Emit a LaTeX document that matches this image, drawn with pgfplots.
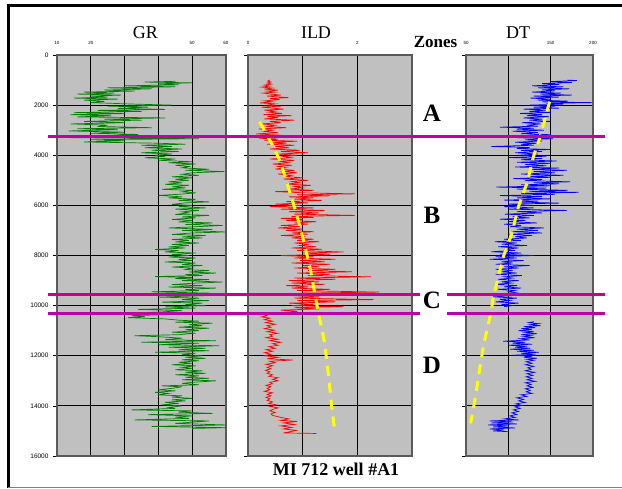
\documentclass[border=0pt]{standalone}
\usepackage{pgfplots}
\pgfplotsset{compat=1.18}
\usepackage{fontspec}
\setmainfont{Liberation Serif}
\newfontfamily\tickfont{Liberation Sans}
\definecolor{panelgray}{RGB}{192,192,192}
\definecolor{borderg}{RGB}{90,90,90}
\definecolor{magz}{RGB}{192,0,160}
\definecolor{grc}{RGB}{0,128,0}
\definecolor{yel}{RGB}{255,255,0}
\pgfplotsset{panel/.style={scale only axis, height=401pt, anchor=south west,
  ymin=0, ymax=16000, y dir=reverse,
  scaled x ticks=false, scaled y ticks=false,
  axis background/.style={fill=panelgray},
  grid=major, major grid style={black, line width=0.8pt},
  axis line style={draw=borderg, line width=1.3pt},
  ytick={0,2000,4000,6000,8000,10000,12000,14000,16000},
  yticklabels={},
  ytick pos=left, tick align=outside, major tick length=4pt,
  ytick style={black, line width=0.6pt},
  xtick pos=right, xticklabel pos=right,
  xtick style={draw=none},
  xticklabel style={font=\tickfont\fontsize{4.5}{5}\selectfont, yshift=3pt},
  yticklabel style={font=\tickfont\fontsize{6.5}{7}\selectfont, xshift=-1pt}}}
\begin{document}
\begin{tikzpicture}
\path[use as bounding box] (0,0) rectangle (622pt,488pt);
% frame
\draw[line width=3pt] (8.5pt,0) -- (8.5pt,482.5pt) -- (622pt,482.5pt);
\draw[gray, line width=0.8pt] (8pt,1pt) -- (622pt,1pt);

% GR
\begin{axis}[panel, at={(57pt,32pt)}, width=169pt, xmin=10, xmax=60,
  xtick={10,20,30,40,50,60}, xticklabels={10,20,,,50,60},
  yticklabels={0,2000,4000,6000,8000,10000,12000,14000,16000}]
\addplot[grc, line width=0.7pt] coordinates {
(45,1050)(36,1080)(50,1110)(40,1150)(46,1190)(30,1230)(45,1270)(25,1310)(38,1350)(24,1400)(33,1440)(18,1480)(27,1520)(16,1560)(29,1600)(20,1640)(25,1680)(15,1720)(28,1760)(18,1800)(24,1850)(20,1900)(33,1960)(44,2000)(25,2040)(37,2080)(28,2130)(42,2170)(22,2210)(35,2250)(15,2300)(30,2340)(14,2380)(26,2420)(16,2470)(42,2510)(24,2560)(35,2600)(18,2650)(30,2700)(14,2750)(25,2800)(22,2850)(38,2900)(16,2940)(28,2980)(13.5,3030)(30,3080)(20,3120)(34,3170)(24,3220)(44,3260)(14,3300)(52,3340)(20,3380)(30,3420)(18,3470)(40,3520)(48,3560)(35,3600)(44,3650)(36,3700)(47,3750)(38,3800)(46,3850)(35,3900)(44,3950)(39,4000)(42,4050)(36,4100)(45,4150)(40,4200)(50,4260)(43,4300)(51,4350)(45,4400)(49,4450)(47,4500)(55,4560)(48,4600)(59.5,4650)(50,4700)(47,4760)(52,4800)(44,4860)(50,4900)(45,4960)(49,5000)(43,5060)(47,5100)(42,5160)(49,5200)(44,5260)(48,5300)(41,5360)(50,5400)(47,5460)(51,5500)(46,5560)(40,5600)(47,5660)(43,5700)(51,5760)(46,5800)(55,5860)(48,5900)(44,5960)(50,6000)(46,6050)(54,6100)(45,6150)(52,6200)(47,6260)(49,6300)(45,6360)(55,6400)(47,6460)(51,6500)(44,6560)(50,6600)(46,6660)(56,6700)(48,6760)(59,6800)(50,6860)(43,6900)(56,6960)(47,7000)(60,7060)(50,7100)(44,7160)(54,7200)(47,7260)(53,7300)(44,7360)(49,7400)(45,7460)(52,7500)(44,7560)(49,7600)(43,7660)(48,7700)(39,7760)(46,7800)(42,7860)(51,7900)(44,7960)(49,8000)(43,8060)(51,8100)(46,8160)(50,8200)(42,8260)(51,8300)(47,8360)(53,8400)(44,8460)(50,8500)(48,8560)(55,8600)(49,8660)(57,8700)(48,8760)(53,8800)(39,8840)(50,8880)(45,8920)(55,8960)(47,9000)(59,9060)(51,9100)(44,9160)(53,9200)(43,9260)(57,9300)(48,9360)(52,9400)(38,9450)(55,9500)(46,9560)(54,9600)(40,9660)(52,9700)(47,9760)(55,9800)(41,9860)(53,9900)(48,9960)(54,10000)(42,10050)(51,10100)(34,10150)(47,10200)(40,10260)(23.5,10330)(45,10350)(32,10400)(36,10440)(31,10480)(42,10530)(46,10580)(52,10620)(45,10660)(56,10700)(49,10760)(53,10800)(46,10860)(55,10900)(48,10960)(52,11000)(44,11060)(51,11100)(46,11160)(33,11200)(40,11240)(47,11300)(42,11360)(57,11400)(35,11460)(52,11500)(40,11560)(58,11600)(43,11660)(54,11700)(46,11760)(55,11800)(39,11860)(51,11900)(47,11960)(53,12000)(48,12060)(54,12100)(47,12160)(52,12200)(46,12260)(50,12300)(44,12360)(51,12400)(47,12460)(50,12500)(45,12560)(53,12600)(48,12660)(54,12700)(45,12760)(52,12800)(48,12860)(55,12900)(47,12960)(57,13000)(50,13060)(47,13100)(52,13160)(41,13200)(47,13240)(44,13300)(40,13360)(45,13400)(39,13460)(43,13500)(40,13560)(47,13600)(44,13650)(50,13700)(44,13760)(48,13800)(42,13860)(46,13900)(41,13960)(47,14000)(43,14060)(45,14100)(32,14160)(50,14200)(46,14250)(56,14300)(37,14350)(50,14400)(45,14450)(49,14500)(33,14560)(55,14600)(45,14700)(60,14760)(38,14820)(60,14870)(50,14900)
};
\end{axis}

% ILD
\begin{axis}[panel, at={(248pt,32pt)}, width=164pt, xmin=0, xmax=3,
  xtick={0,1,2,3}, xticklabels={0,,2,}]
\addplot[red, line width=0.7pt] coordinates {
(0.40,1000)(0.36,1040)(0.42,1080)(0.35,1120)(0.43,1160)(0.3,1200)(0.4,1240)(0.25,1280)(0.45,1320)(0.3,1360)(0.55,1400)(0.35,1440)(0.5,1480)(0.28,1520)(0.42,1560)(0.6,1600)(0.35,1640)(0.74,1700)(0.4,1740)(0.58,1780)(0.3,1830)(0.45,1870)(0.22,1910)(0.5,1950)(0.35,2000)(0.6,2040)(0.25,2080)(0.45,2120)(0.65,2160)(0.3,2200)(0.5,2240)(0.38,2280)(0.62,2330)(0.28,2380)(0.8,2420)(0.35,2460)(0.55,2500)(0.3,2550)(0.85,2600)(0.4,2650)(0.6,2700)(0.25,2750)(0.5,2800)(0.35,2850)(0.7,2900)(0.2,2950)(0.45,3000)(0.3,3050)(0.55,3100)(0.15,3150)(0.6,3200)(0.1,3250)(0.75,3280)(0.2,3320)(0.55,3360)(0.3,3400)(0.9,3440)(0.45,3480)(0.7,3520)(0.35,3560)(0.85,3600)(0.5,3650)(0.75,3700)(0.4,3750)(0.95,3800)(0.6,3850)(1.1,3900)(0.55,3950)(0.9,4000)(0.65,4050)(0.8,4100)(0.4,4150)(0.85,4200)(0.6,4250)(0.75,4300)(0.45,4350)(0.8,4400)(0.55,4450)(0.7,4500)(0.5,4550)(0.85,4600)(0.65,4650)(0.9,4700)(0.55,4750)(0.8,4800)(0.7,4850)(1.0,4900)(0.65,4950)(1.1,5000)(0.8,5050)(0.95,5100)(0.7,5150)(1.15,5200)(0.85,5250)(1.0,5300)(0.75,5350)(1.2,5400)(0.5,5450)(1.05,5500)(1.95,5540)(0.9,5580)(1.5,5620)(0.75,5660)(1.2,5700)(0.85,5750)(1.35,5800)(0.7,5850)(1.1,5900)(0.5,5950)(0.95,6000)(0.4,6050)(1.2,6100)(0.6,6150)(1.4,6200)(0.75,6250)(1.3,6300)(0.85,6350)(1.95,6400)(0.8,6440)(1.2,6480)(0.6,6520)(1.0,6560)(0.7,6600)(1.25,6650)(0.85,6700)(1.1,6750)(0.6,6800)(0.95,6850)(0.55,6900)(1.0,6950)(0.7,7000)(1.2,7050)(0.8,7100)(1.1,7150)(0.6,7200)(1.05,7250)(0.8,7300)(1.2,7350)(0.9,7400)(1.3,7450)(0.85,7500)(1.1,7550)(0.95,7600)(1.25,7650)(0.8,7700)(1.35,7750)(0.9,7800)(1.75,7860)(1.0,7900)(1.5,7950)(0.6,8000)(1.2,8050)(0.85,8100)(1.6,8150)(0.95,8200)(1.4,8250)(0.8,8300)(1.5,8350)(1.0,8400)(1.3,8450)(0.85,8500)(1.6,8550)(1.1,8600)(1.9,8650)(0.9,8700)(1.5,8750)(1.1,8800)(2.25,8850)(0.85,8900)(1.6,8950)(0.75,9000)(1.3,9050)(0.8,9100)(1.4,9150)(0.7,9200)(1.1,9250)(0.8,9300)(1.5,9350)(0.9,9400)(2.4,9460)(1.0,9500)(1.7,9550)(0.8,9600)(1.3,9650)(0.85,9700)(2.3,9760)(0.9,9800)(1.6,9850)(0.75,9900)(1.2,9950)(0.8,10000)(1.75,10040)(0.85,10080)(1.3,10130)(0.6,10180)(0.9,10230)(0.7,10280)(0.3,10310)(0.28,10350)(0.35,10400)(0.25,10450)(0.4,10500)(0.3,10560)(0.45,10620)(0.32,10680)(0.5,10740)(0.35,10800)(0.42,10860)(0.3,10920)(0.48,10980)(0.35,11040)(0.55,11100)(0.4,11160)(0.45,11220)(0.33,11280)(0.55,11340)(0.4,11400)(0.6,11460)(0.45,11520)(0.55,11580)(0.38,11640)(0.5,11700)(0.33,11760)(0.45,11820)(0.3,11880)(0.42,11940)(0.3,12000)(0.55,12060)(0.35,12120)(0.82,12170)(0.4,12220)(0.5,12280)(0.33,12340)(0.45,12400)(0.35,12460)(0.42,12520)(0.32,12580)(0.4,12640)(0.35,12700)(0.45,12760)(0.38,12820)(0.55,12880)(0.45,12940)(0.55,13000)(0.4,13060)(0.45,13120)(0.33,13180)(0.42,13240)(0.35,13300)(0.4,13360)(0.3,13420)(0.45,13480)(0.35,13540)(0.42,13600)(0.33,13660)(0.4,13720)(0.35,13780)(0.45,13840)(0.38,13900)(0.52,13960)(0.4,14020)(0.55,14080)(0.45,14140)(0.4,14200)(0.5,14260)(0.42,14320)(0.45,14380)(0.6,14460)(0.75,14520)(0.6,14580)(0.9,14620)(0.65,14680)(0.85,14740)(0.6,14800)(0.8,14860)(0.65,14920)(0.88,14980)(0.75,15040)(0.65,15080)(1.25,15100)
};
\addplot[yel, line width=3pt, dash pattern=on 10pt off 7pt, smooth] coordinates {
(0.21,2660)(0.55,4060)(0.80,5720)(0.95,6850)(1.13,8450)(1.22,9510)(1.29,10310)(1.38,11240)(1.44,12170)(1.54,14170)(1.59,15030)
};
\end{axis}

% DT
\begin{axis}[panel, at={(466pt,32pt)}, width=127pt, xmin=50, xmax=200,
  xtick={50,100,150,200}, xticklabels={50,,150,200}]
\addplot[blue, line width=0.7pt] coordinates {
(170,1000)(181,1020)(150,1060)(175,1100)(140,1140)(160,1180)(128,1230)(165,1270)(135,1310)(172,1350)(140,1390)(155,1430)(128,1480)(162,1520)(138,1560)(175,1600)(130,1640)(160,1680)(126,1720)(150,1760)(135,1800)(170,1840)(140,1870)(199,1900)(145,1930)(165,1960)(125,2000)(155,2040)(130,2080)(160,2120)(118,2160)(145,2200)(125,2250)(150,2290)(114,2330)(140,2380)(122,2420)(148,2460)(118,2510)(140,2560)(125,2600)(150,2650)(116,2700)(138,2750)(122,2800)(135,2840)(90,2880)(130,2920)(110,2960)(142,3000)(105,3040)(135,3090)(115,3140)(150,3180)(102,3230)(145,3260)(110,3300)(153,3340)(120,3380)(140,3430)(108,3480)(135,3520)(115,3560)(130,3600)(80,3650)(125,3690)(110,3730)(150,3770)(115,3810)(140,3850)(108,3900)(135,3950)(112,4000)(145,4040)(100,4090)(140,4130)(115,4180)(157,4230)(110,4280)(150,4320)(120,4370)(145,4420)(108,4470)(160,4510)(125,4560)(169,4600)(130,4650)(155,4700)(115,4750)(165,4800)(125,4840)(150,4880)(106,4930)(140,4970)(120,5010)(173,5060)(130,5100)(160,5140)(115,5180)(150,5220)(86,5270)(145,5310)(110,5350)(170,5400)(125,5440)(183,5480)(115,5520)(155,5560)(90,5610)(140,5650)(110,5700)(150,5740)(95,5790)(135,5830)(115,5870)(160,5910)(100,5950)(125,6000)(95,6050)(130,6100)(100,6150)(169,6200)(110,6250)(140,6300)(96,6350)(130,6400)(105,6450)(125,6500)(90,6550)(120,6600)(100,6650)(134,6700)(95,6750)(115,6800)(102,6850)(142,6900)(110,6950)(135,7000)(105,7050)(140,7100)(100,7150)(128,7200)(108,7250)(122,7300)(95,7350)(115,7400)(84,7450)(110,7500)(92,7550)(122,7600)(88,7650)(112,7700)(95,7750)(108,7800)(80,7850)(115,7900)(90,7950)(130,8000)(85,8050)(110,8100)(78,8150)(118,8200)(92,8250)(105,8300)(85,8350)(125,8400)(95,8450)(112,8500)(85,8550)(105,8600)(92,8650)(110,8700)(85,8750)(116,8800)(95,8850)(105,8900)(88,8950)(112,9000)(92,9050)(104,9100)(85,9150)(110,9200)(95,9250)(115,9300)(88,9350)(108,9400)(100,9450)(112,9500)(86,9550)(105,9600)(82,9650)(110,9700)(90,9750)(102,9800)(85,9850)(112,9900)(92,9950)(105,10000)(95,10040)
};
\addplot[blue, line width=0.7pt] coordinates {
(130,10640)(124,10680)(136,10720)(126,10760)(138,10800)(118,10840)(132,10880)(115,10920)(128,10960)(112,11000)(130,11040)(120,11080)(134,11120)(115,11160)(127,11200)(118,11240)(131,11280)(114,11320)(125,11370)(94,11420)(120,11460)(105,11500)(128,11540)(100,11580)(122,11620)(108,11660)(126,11700)(102,11740)(130,11780)(110,11820)(136,11860)(115,11900)(132,11940)(105,11980)(128,12020)(118,12060)(134,12100)(122,12140)(130,12180)(121,12240)(128,12300)(120,12360)(130,12420)(123,12480)(127,12540)(120,12600)(131,12660)(122,12720)(129,12780)(121,12840)(128,12900)(122,12960)(132,13020)(120,13080)(127,13140)(122,13200)(129,13260)(120,13320)(126,13380)(121,13440)(128,13500)(115,13560)(122,13620)(110,13680)(118,13740)(112,13800)(120,13860)(109,13920)(116,13980)(108,14040)(114,14100)(106,14160)(112,14220)(104,14280)(110,14340)(102,14400)(108,14460)(95,14520)(112,14560)(78,14600)(105,14640)(80,14680)(110,14720)(76,14760)(100,14800)(82,14840)(108,14880)(78,14920)(95,14960)(82,15000)(100,15030)
};
\addplot[yel, line width=3pt, dash pattern=on 10pt off 7pt, smooth] coordinates {
(148.7,1863)(137.6,3259)(129.7,4057)(121.8,5121)(112.0,6052)(104.1,7116)(94.2,8047)(88.3,8845)(82.4,9643)(79.2,10308)(71.3,11505)(66.6,12436)(61.8,13500)(55.5,14697)
};
\end{axis}

% overlay: zone boundaries
\begin{axis}[scale only axis, anchor=south west, at={(0pt,32pt)}, width=622pt, height=401pt,
  xmin=0, xmax=622, ymin=0, ymax=16000, y dir=reverse, hide axis, clip=false]
\addplot[magz, line width=3pt] coordinates {(48,3250)(605,3250)};
\addplot[magz, line width=3pt] coordinates {(48,9565)(420,9565)};
\addplot[magz, line width=3pt] coordinates {(447,9565)(605,9565)};
\addplot[magz, line width=3pt] coordinates {(48,10295)(420,10295)};
\addplot[magz, line width=3pt] coordinates {(447,10295)(605,10295)};
\end{axis}

% texts
\node[font=\fontsize{18}{20}\selectfont] at (145.5pt,455pt) {GR};
\node[font=\fontsize{18}{20}\selectfont] at (316pt,455pt) {ILD};
\node[font=\fontsize{18}{20}\selectfont] at (518pt,455pt) {DT};
\node[font=\fontsize{17}{20}\selectfont\bfseries] at (435.5pt,446pt) {Zones};
\node[font=\fontsize{25}{28}\selectfont\bfseries] at (432pt,375pt) {A};
\node[font=\fontsize{25}{28}\selectfont\bfseries] at (432pt,273pt) {B};
\node[font=\fontsize{25}{28}\selectfont\bfseries] at (432pt,188pt) {C};
\node[font=\fontsize{25}{28}\selectfont\bfseries] at (432pt,123pt) {D};
\node[font=\fontsize{18}{20}\selectfont\bfseries] at (336pt,19pt) {MI 712 well \#A1};
\end{tikzpicture}
\end{document}
